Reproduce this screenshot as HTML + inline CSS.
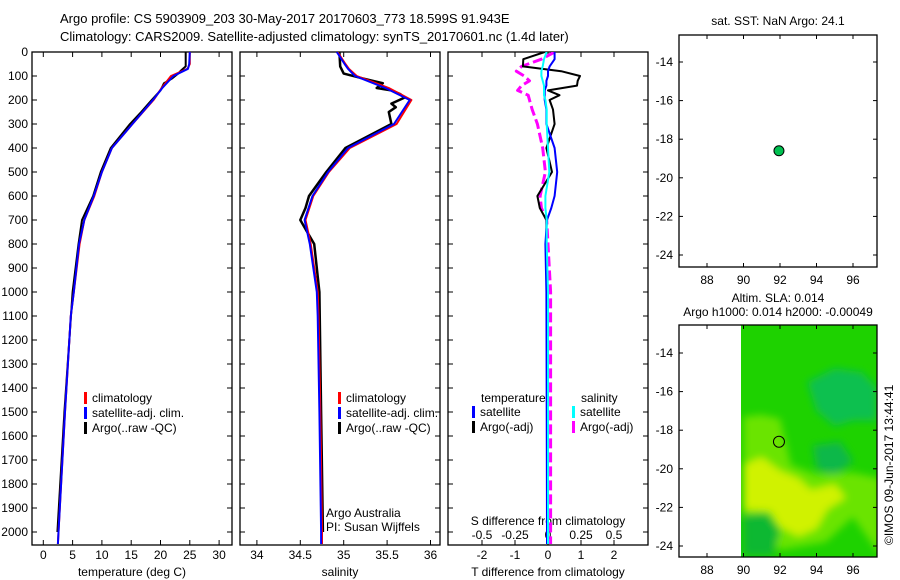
<!DOCTYPE html>
<html><head><meta charset="utf-8"><style>
body{margin:0;background:#fff;}
svg{display:block;font-family:"Liberation Sans",sans-serif;font-size:12px;}
</style></head><body>
<svg id="chart" width="900" height="580" viewBox="0 0 900 580">
<defs>
<clipPath id="c1"><rect x="32" y="52" width="200" height="493"/></clipPath>
<clipPath id="c2"><rect x="240" y="52" width="200" height="493"/></clipPath>
<clipPath id="c3"><rect x="448" y="52" width="200" height="493"/></clipPath>
<clipPath id="cm"><rect x="741" y="325" width="136" height="232"/></clipPath>
<filter id="blur" x="-50%" y="-50%" width="200%" height="200%"><feGaussianBlur stdDeviation="4"/></filter>
</defs>
<text x="60" y="23" font-size="13">Argo profile: CS 5903909_203 30-May-2017 20170603_773 18.599S 91.943E</text>
<text x="60" y="41" font-size="13">Climatology: CARS2009. Satellite-adjusted climatology: synTS_20170601.nc (1.4d later)</text>
<g id="g1"></g>
<g id="g2"></g>
<g id="g3"></g>
<g id="g4"></g>
<g id="g5"></g>
<text transform="translate(893,545) rotate(-90)" font-size="12">©IMOS 09-Jun-2017 13:44:41</text>
</svg>
<script>
// ---- data ----
const depthTicks=[0,100,200,300,400,500,600,700,800,900,1000,1100,1200,1300,1400,1500,1600,1700,1800,1900,2000];
const tempTicks=[0,5,10,15,20,25,30];
const salTicks=[34,34.5,35,35.5,36];
const tdiffTicks=[-2,-1,0,1,2];
const sdiffTicks=[-0.5,-0.25,0,0.25,0.5];
const sdiffLabels=["-0.5","-0.25","0","0.25","0.5"];
const lonTicks=[88,90,92,94,96];
const latTicks=[-14,-16,-18,-20,-22,-24];

const profDepth=[0,50,70,100,150,200,300,400,500,600,700,800,1000,1100,1500,2000,2050];
const tempClim=[25.0,25.0,24.6,21.8,20.2,18.8,15.2,11.7,10.0,8.7,7.0,6.2,5.2,4.7,3.7,2.6,2.5];
const tempSat=[25.0,24.9,24.7,22.2,20.3,18.7,15.2,11.7,10.0,8.6,7.0,6.1,5.2,4.7,3.7,2.6,2.5];
const argoDepth=[0,60,75,90,110,130,160,200,250,300,400,500,600,700,800,1000,1500,2000];
const tempArgo=[24.3,24.3,23.6,23.0,22.0,20.6,20.0,18.5,16.7,14.8,11.5,9.8,8.5,6.6,6.0,5.0,3.6,2.4];

const salClim=[34.93,35.02,35.06,35.15,35.52,35.78,35.61,35.07,34.83,34.65,34.56,34.62,34.70,34.71,34.73,34.75,34.75];
const salSat=[34.92,35.01,35.05,35.13,35.48,35.76,35.58,35.05,34.82,34.64,34.55,34.61,34.69,34.70,34.72,34.74,34.74];
const salArgoDepth=[0,60,90,110,130,150,160,175,190,215,230,250,300,400,500,600,650,700,750,800,1000,1500,2000];
const salArgo=[34.95,34.96,35.0,35.22,35.45,35.38,35.55,35.65,35.7,35.55,35.6,35.52,35.55,35.02,34.8,34.6,34.56,34.5,34.58,34.66,34.72,34.74,34.76];

const diffDepth=[0,30,60,80,100,120,140,160,180,200,240,300,400,500,600,650,700,800,1000,2000,2050];
const tDiffArgo=[-0.1,-0.75,-0.76,0.4,0.97,0.9,0.88,0.0,0.35,0.05,0.15,0.2,-0.05,0.12,-0.32,-0.25,-0.05,-0.05,-0.03,-0.03,-0.03];
const tDiffSat=[0.2,0.2,0.05,0.0,0.0,-0.05,-0.05,-0.1,-0.1,-0.1,-0.05,-0.05,0.2,0.28,0.2,0.1,-0.03,-0.08,-0.05,-0.03,-0.03];
const sDiffArgo=[0.05,-0.05,-0.2,-0.24,-0.18,-0.14,-0.2,-0.23,-0.15,-0.14,-0.12,-0.08,-0.04,-0.02,-0.06,-0.05,-0.01,0.0,0.02,0.02,0.02];
const sDiffSat=[-0.01,-0.03,-0.04,-0.05,-0.05,-0.04,-0.03,-0.03,-0.03,-0.02,-0.01,-0.01,0.0,0.01,-0.02,-0.02,-0.01,-0.01,0.0,0.0,0.0];

const floatLon=[91.943];
const floatLat=[-18.599];

// SLA field region outlines (lon, lat)
const lightLon=[90,91,92,92.6,94,96,97.5,97.5,96,94.5,92,90];
const lightLat=[-17.3,-17.2,-17.4,-19.8,-20.3,-20.2,-20.5,-24.5,-22.5,-23.8,-24.2,-22.6];
const yellowLon=[90,91,92,93,93.7,95,95.6,94.6,94,93,92,91.5,90];
const yellowLat=[-19.8,-19.4,-20.1,-20.5,-21.1,-20.8,-21.5,-22.1,-23.1,-23.5,-23,-22.2,-22.1];
const darkLon=[90,91.3,92,91.6,90];
const darkLat=[-22.4,-22.3,-23.2,-24.5,-24.5];
const tealLon=[93.5,95,96.5,97.3,97.3,96,95,94];
const tealLat=[-15.5,-14.8,-15,-15.8,-17.5,-17.5,-17.8,-17];
const teal2Lon=[93.8,95.3,96,95,94];
const teal2Lat=[-18.8,-18.6,-19.6,-20.4,-20];

// ---- helpers ----
const NS="http://www.w3.org/2000/svg";
function mk(parent,tag,attrs){const e=document.createElementNS(NS,tag);for(const k in attrs)e.setAttribute(k,attrs[k]);parent.appendChild(e);return e;}
const yD=d=>52+d*0.24;
const xT=t=>43.3+t*5.86;
const xS=s=>343.7+(s-35)*86.8;
const xTd=t=>548+t*33;
const xSd=s=>548+s*132;
const xLon=l=>707+(l-88)*18.25;
const yLat1=l=>62+(-14-l)*19.3;
const yLat2=l=>353+(-14-l)*19.3;

function frame(g,x0,y0,w,h){
  const r=mk(g,'rect',{x:x0,y:y0,width:w,height:h,fill:'none',stroke:'#000','stroke-width':1.3});
  
  
}
function depthAxis(g,x0,labels){
  depthTicks.forEach(d=>{
    const y=yD(d);
    mk(g,'line',{x1:x0,x2:x0+5,y1:y,y2:y,stroke:'#000'});
    mk(g,'line',{x1:x0+195,x2:x0+200,y1:y,y2:y,stroke:'#000'});
    if(labels){const t=mk(g,'text',{x:x0-4,y:y+4,'text-anchor':'end'});t.textContent=d;
      
      }
  });
}
function xAxis(g,ticks,fx,labs,ylab){
  ticks.forEach((v,i)=>{const x=fx(v);
    mk(g,'line',{x1:x,x2:x,y1:540,y2:545,stroke:'#000'});
    mk(g,'line',{x1:x,x2:x,y1:52,y2:57,stroke:'#000'});
    const t=mk(g,'text',{x:x,y:ylab,'text-anchor':'middle'});t.textContent=labs?labs[i]:v;
    
    
  });
}
function line(g,fx,xs,ds,color,w,clip,dash){
  const d=xs.map((v,i)=>(i?'L':'M')+fx(v).toFixed(1)+','+yD(ds[i]).toFixed(1)).join('');
  const p=mk(g,'path',{d:d,fill:'none',stroke:color,'stroke-width':w,'clip-path':'url(#'+clip+')','stroke-linejoin':'round'});
  if(dash)p.setAttribute('stroke-dasharray',dash);
  return p;
}
function legend(g,x,y,items){
  items.forEach((it,i)=>{
    const yy=y+i*15;
    mk(g,'rect',{x:x,y:yy-10,width:3,height:12,fill:it[1]});
    const t=mk(g,'text',{x:x+8,y:yy});t.textContent=it[0];
    
    
  });
}
function region(g,lons,lats,color,name){
  const pts=lons.map((l,i)=>xLon(l).toFixed(1)+','+yLat2(lats[i]).toFixed(1)).join(' ');
  const p=mk(g,'polygon',{points:pts,fill:color});
  
  
}

// ---- panel 1 temperature ----
const g1=document.getElementById('g1');
frame(g1,32,52,200,493);depthAxis(g1,32,true);
xAxis(g1,tempTicks,xT,null,559);
let t=mk(g1,'text',{x:132,y:576,'text-anchor':'middle'});t.textContent='temperature (deg C)';


let p=line(g1,xT,tempArgo,argoDepth,'#000',2,'c1');


p=line(g1,xT,tempClim,profDepth,'#f00',2,'c1');


p=line(g1,xT,tempSat,profDepth,'#00f',2,'c1');


legend(g1,84,402,[['climatology','#f00'],['satellite-adj. clim.','#00f'],['Argo(..raw -QC)','#000']]);

// ---- panel 2 salinity ----
const g2=document.getElementById('g2');
frame(g2,240,52,200,493);depthAxis(g2,240,false);
xAxis(g2,salTicks,xS,null,559);
t=mk(g2,'text',{x:340,y:576,'text-anchor':'middle'});t.textContent='salinity';


p=line(g2,xS,salArgo,salArgoDepth,'#000',2.5,'c2');


p=line(g2,xS,salClim,profDepth,'#f00',2,'c2');


p=line(g2,xS,salSat,profDepth,'#00f',2,'c2');


legend(g2,338,402,[['climatology','#f00'],['satellite-adj. clim.','#00f'],['Argo(..raw -QC)','#000']]);
t=mk(g2,'text',{x:326,y:517});t.textContent='Argo Australia';


t=mk(g2,'text',{x:326,y:531});t.textContent='PI: Susan Wijffels';



// ---- panel 3 differences ----
const g3=document.getElementById('g3');
frame(g3,448,52,200,493);depthAxis(g3,448,false);
tdiffTicks.forEach(v=>{const x=xTd(v);mk(g3,'line',{x1:x,x2:x,y1:545,y2:540,stroke:'#000'});mk(g3,'line',{x1:x,x2:x,y1:52,y2:57,stroke:'#000'});
  const tt=mk(g3,'text',{x:x,y:559,'text-anchor':'middle'});tt.textContent=v;
  
  });
sdiffTicks.forEach((v,i)=>{const tt=mk(g3,'text',{x:xSd(v),y:539,'text-anchor':'middle'});tt.textContent=sdiffLabels[i];
  
  });
t=mk(g3,'text',{x:548,y:525,'text-anchor':'middle'});t.textContent='S difference from climatology';


t=mk(g3,'text',{x:548,y:576,'text-anchor':'middle'});t.textContent='T difference from climatology';


p=line(g3,xSd,sDiffArgo,diffDepth,'#f0f',3,'c3','10,4');


p=line(g3,xTd,tDiffArgo,diffDepth,'#000',2,'c3');


p=line(g3,xTd,tDiffSat,diffDepth,'#00f',2,'c3');


p=line(g3,xSd,sDiffSat,diffDepth,'#0ff',2,'c3');


t=mk(g3,'text',{x:481,y:402});t.textContent='temperature';


t=mk(g3,'text',{x:581,y:402});t.textContent='salinity';


legend(g3,472,416,[['satellite','#00f'],['Argo(-adj)','#000']]);
legend(g3,572,416,[['satellite','#0ff'],['Argo(-adj)','#f0f']]);

// ---- map axes ----
function mapAxes(g,y0,h,fy){
  frame(g,679,y0,198,h);
  lonTicks.forEach(v=>{const x=xLon(v);mk(g,'line',{x1:x,x2:x,y1:y0,y2:y0+4,stroke:'#000'});mk(g,'line',{x1:x,x2:x,y1:y0+h,y2:y0+h-4,stroke:'#000'});
    const tt=mk(g,'text',{x:x,y:y0+h+17,'text-anchor':'middle'});tt.textContent=v;
    
    });
  latTicks.forEach(v=>{const y=fy(v);mk(g,'line',{x1:679,x2:683,y1:y,y2:y,stroke:'#000'});mk(g,'line',{x1:877,x2:873,y1:y,y2:y,stroke:'#000'});
    const tt=mk(g,'text',{x:673,y:y+4,'text-anchor':'end'});tt.textContent=v;
    
    });
}
const g4=document.getElementById('g4');
t=mk(g4,'text',{x:778,y:25,'text-anchor':'middle'});t.textContent='sat. SST: NaN Argo: 24.1';


mapAxes(g4,35,232,yLat1);
let c=mk(g4,'circle',{cx:xLon(floatLon[0]),cy:yLat1(floatLat[0]),r:5,fill:'#00c050',stroke:'#000','stroke-width':1});



const g5=document.getElementById('g5');
t=mk(g5,'text',{x:778,y:302,'text-anchor':'middle'});t.textContent='Altim. SLA: 0.014';


t=mk(g5,'text',{x:778,y:316,'text-anchor':'middle'});t.textContent='Argo h1000: 0.014 h2000: -0.00049';


const field=mk(g5,'g',{'clip-path':'url(#cm)'});


mk(field,'rect',{x:741,y:325,width:136,height:232,fill:'#1ed200'});
const bl=mk(field,'g',{filter:'url(#blur)'});
region(bl,tealLon,tealLat,'#0cc050','sla-high-region');
region(bl,teal2Lon,teal2Lat,'#10b848','sla-high-region-2');
region(bl,lightLon,lightLat,'#6ae400','sla-mid-region');
region(bl,yellowLon,yellowLat,'#d0f200','sla-low-region');
region(bl,darkLon,darkLat,'#10b830','sla-dark-region');
mapAxes(g5,325,232,yLat2);
c=mk(g5,'circle',{cx:xLon(floatLon[0]),cy:yLat2(floatLat[0]),r:5.5,fill:'none',stroke:'#000','stroke-width':1});


</script>
</body></html>
